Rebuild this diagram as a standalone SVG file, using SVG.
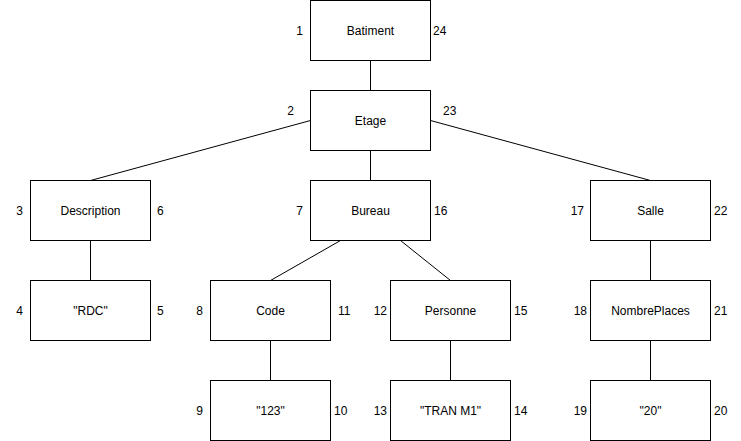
<svg xmlns="http://www.w3.org/2000/svg" width="741" height="441" viewBox="0 0 741 441">
<style>
rect{fill:#fff;stroke:#000;stroke-width:1}
text{font-family:"Liberation Sans",Arial,sans-serif;font-size:12px;fill:#000;dominant-baseline:central}
.c{text-anchor:middle}.l{text-anchor:end}.r{text-anchor:start}
#connectors line{stroke:#000;stroke-width:1}
</style>
<rect x="0" y="0" width="741" height="441" style="stroke:none"/>
<g id="connectors">
<line x1="370.5" y1="60.5" x2="370.5" y2="90.5"/>
<line x1="310.5" y1="120.5" x2="90.5" y2="180.5"/>
<line x1="370.5" y1="150.5" x2="370.5" y2="180.5"/>
<line x1="430.5" y1="120.5" x2="650.5" y2="180.5"/>
<line x1="90.5" y1="240.5" x2="90.5" y2="280.5"/>
<line x1="340.5" y1="240.5" x2="270.5" y2="280.5"/>
<line x1="400.5" y1="240.5" x2="450.5" y2="280.5"/>
<line x1="650.5" y1="240.5" x2="650.5" y2="280.5"/>
<line x1="270.5" y1="340.5" x2="270.5" y2="380.5"/>
<line x1="450.5" y1="340.5" x2="450.5" y2="380.5"/>
<line x1="650.5" y1="340.5" x2="650.5" y2="380.5"/>
</g>
<g id="batiment"><rect x="310.5" y="0.5" width="120" height="60"/><text class="c" x="370.5" y="30.5">Batiment</text><text class="l" x="303" y="30.5">1</text><text class="r" x="433" y="30.5">24</text></g>
<g id="etage"><rect x="310.5" y="90.5" width="120" height="60"/><text class="c" x="370.5" y="120.5">Etage</text><text class="l" x="294" y="110.5">2</text><text class="r" x="443" y="110.5">23</text></g>
<g id="description"><rect x="30.5" y="180.5" width="120" height="60"/><text class="c" x="90.5" y="210.5">Description</text><text class="l" x="23" y="210.5">3</text><text class="r" x="157" y="210.5">6</text></g>
<g id="bureau"><rect x="310.5" y="180.5" width="120" height="60"/><text class="c" x="370.5" y="210.5">Bureau</text><text class="l" x="303" y="210.5">7</text><text class="r" x="434" y="210.5">16</text></g>
<g id="salle"><rect x="590.5" y="180.5" width="120" height="60"/><text class="c" x="650.5" y="210.5">Salle</text><text class="l" x="584" y="210.5">17</text><text class="r" x="714" y="210.5">22</text></g>
<g id="rdc"><rect x="30.5" y="280.5" width="120" height="60"/><text class="c" x="90.5" y="310.5">"RDC"</text><text class="l" x="23" y="310.5">4</text><text class="r" x="157" y="310.5">5</text></g>
<g id="code"><rect x="210.5" y="280.5" width="120" height="60"/><text class="c" x="270.5" y="310.5">Code</text><text class="l" x="203" y="310.5">8</text><text class="r" x="338" y="310.5">11</text></g>
<g id="personne"><rect x="390.5" y="280.5" width="120" height="60"/><text class="c" x="450.5" y="310.5">Personne</text><text class="l" x="387" y="310.5">12</text><text class="r" x="514" y="310.5">15</text></g>
<g id="nombreplaces"><rect x="590.5" y="280.5" width="120" height="60"/><text class="c" x="650.5" y="310.5">NombrePlaces</text><text class="l" x="587" y="310.5">18</text><text class="r" x="714" y="310.5">21</text></g>
<g id="v123"><rect x="210.5" y="380.5" width="120" height="60"/><text class="c" x="270.5" y="410.5">"123"</text><text class="l" x="203" y="410.5">9</text><text class="r" x="334" y="410.5">10</text></g>
<g id="tran"><rect x="390.5" y="380.5" width="120" height="60"/><text class="c" x="450.5" y="410.5">"TRAN M1"</text><text class="l" x="387" y="410.5">13</text><text class="r" x="514" y="410.5">14</text></g>
<g id="v20"><rect x="590.5" y="380.5" width="120" height="60"/><text class="c" x="650.5" y="410.5">"20"</text><text class="l" x="587" y="410.5">19</text><text class="r" x="714" y="410.5">20</text></g>
</svg>
